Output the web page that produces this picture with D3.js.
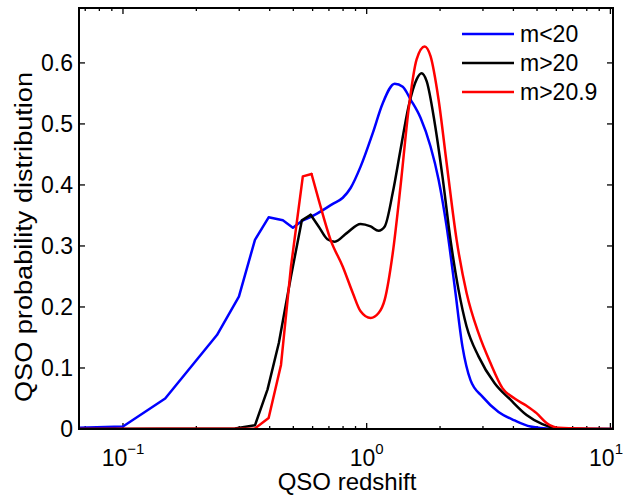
<!DOCTYPE html>
<html>
<head>
<meta charset="utf-8">
<script src="https://cdn.jsdelivr.net/npm/d3@7/dist/d3.min.js"></script>
<style>
  body { margin: 0; background: #fff; }
  text { font-family: "Liberation Sans", Arial, sans-serif; fill: #000; }
</style>
</head>
<body>
<div id="chart"></div>
<script>
// redshift samples and probability values
const zBlue = [0.066, 0.1, 0.149, 0.243, 0.299, 0.348, 0.396, 0.453, 0.498, 0.547, 0.612, 0.726, 0.798, 0.859, 0.944,
    1.059, 1.164, 1.303, 1.406, 1.514, 1.663, 1.828, 1.972, 2.128, 2.296, 2.472, 2.667, 2.985, 3.475, 4.046, 4.699, 5.675, 10.25];
const pBlue = [0.002, 0.004, 0.050, 0.154, 0.217, 0.310, 0.347, 0.342, 0.330, 0.342, 0.351, 0.369, 0.379, 0.395, 0.430,
    0.485, 0.534, 0.566, 0.561, 0.540, 0.510, 0.463, 0.409, 0.332, 0.234, 0.135, 0.080, 0.053, 0.028, 0.014, 0.004, 0.0005, 0];

const zBlack = [0.066, 0.288, 0.348, 0.392, 0.436, 0.489, 0.542, 0.589, 0.635, 0.690, 0.740, 0.828, 0.944, 1.038, 1.119,
    1.186, 1.279, 1.377, 1.486, 1.603, 1.679, 1.762, 1.901, 2.046, 2.208, 2.382, 2.570, 2.877, 3.350, 3.890, 4.529, 5.260, 6.124, 10.25];
const pBlack = [0, 0.001, 0.006, 0.065, 0.141, 0.250, 0.342, 0.351, 0.332, 0.311, 0.307, 0.321, 0.336, 0.332, 0.325,
    0.332, 0.387, 0.458, 0.529, 0.573, 0.583, 0.570, 0.502, 0.414, 0.310, 0.228, 0.168, 0.119, 0.075, 0.048, 0.023, 0.008, 0.001, 0];

const zRed = [0.066, 0.348, 0.396, 0.445, 0.489, 0.547, 0.594, 0.635, 0.711, 0.798, 0.877, 0.944, 1.038, 1.119, 1.186,
    1.279, 1.377, 1.486, 1.603, 1.730, 1.828, 1.972, 2.128, 2.339, 2.570, 2.877, 3.221, 3.606, 4.046, 4.529, 4.977, 5.470, 6.124, 10.25];
const pRed = [0, 0.001, 0.018, 0.105, 0.266, 0.414, 0.418, 0.376, 0.310, 0.266, 0.223, 0.193, 0.182, 0.190, 0.212,
    0.288, 0.398, 0.524, 0.606, 0.627, 0.611, 0.540, 0.436, 0.310, 0.223, 0.157, 0.108, 0.067, 0.050, 0.038, 0.026, 0.010, 0.002, 0];

const seriesNames = ["m<20", "m>20", "m>20.9"];
const seriesColors = ["#0000ff", "#000000", "#ff0000"];
const yTicks = [0, 0.1, 0.2, 0.3, 0.4, 0.5, 0.6];
const xTickExp = [-1, 0, 1];

const svgW = 626, svgH = 495;
const plotL = 79, plotR = 613, plotT = 8, plotB = 429;

const svg = d3.select("#chart").append("svg")
    .attr("width", svgW)
    .attr("height", svgH);

const x = d3.scaleLog().domain([0.066, 10.25]).range([plotL, plotR]);
const y = d3.scaleLinear().domain([0, 0.69]).range([plotB, plotT]);

//minor ticks for the log axis (2..9 in each decade)
const minor = [];
for (let e = -2; e <= 1; e++) {
    for (let k = 2; k <= 9; k++) {
        const v = k * Math.pow(10, e);
        if (v > 0.066 && v < 10.25) minor.push(v);
    }
}

const tickG = svg.append("g").attr("stroke", "#000").attr("stroke-width", 1.3);
minor.forEach(v => {
    tickG.append("line").attr("x1", x(v)).attr("x2", x(v)).attr("y1", plotB).attr("y2", plotB - 3);
    tickG.append("line").attr("x1", x(v)).attr("x2", x(v)).attr("y1", plotT).attr("y2", plotT + 3);
});
xTickExp.forEach(e => {
    const v = Math.pow(10, e);
    tickG.append("line").attr("x1", x(v)).attr("x2", x(v)).attr("y1", plotB).attr("y2", plotB - 6);
    tickG.append("line").attr("x1", x(v)).attr("x2", x(v)).attr("y1", plotT).attr("y2", plotT + 6);
});
yTicks.forEach(t => {
    tickG.append("line").attr("x1", plotL).attr("x2", plotL + 6).attr("y1", y(t)).attr("y2", y(t));
    tickG.append("line").attr("x1", plotR).attr("x2", plotR - 6).attr("y1", y(t)).attr("y2", y(t));
});

// curves: the low-redshift part looks piecewise linear, the rest is smooth
const lineStraight = d3.line()
    .x(d => x(d[0]))
    .y(d => y(d[1]));
const lineSmooth = d3.line()
    .curve(d3.curveMonotoneX)
    .x(d => x(d[0]))
    .y(d => y(d[1]));

const series = [
    d3.zip(zBlue, pBlue),
    d3.zip(zBlack, pBlack),
    d3.zip(zRed, pRed)
];
const splitAt = [0.547, 0.589, 0.594];

svg.append("defs").append("clipPath").attr("id", "clip")
    .append("rect").attr("x", plotL).attr("y", plotT).attr("width", plotR - plotL).attr("height", plotB - plotT);

series.forEach((s, i) => {
    const g = svg.append("g")
        .attr("clip-path", "url(#clip)")
        .attr("fill", "none")
        .attr("stroke", seriesColors[i])
        .attr("stroke-width", 2.5)
        .attr("stroke-linejoin", "round")
        .attr("stroke-linecap", "round");
    g.append("path").datum(s.filter(d => d[0] <= splitAt[i])).attr("d", lineStraight);
    g.append("path").datum(s.filter(d => d[0] >= splitAt[i])).attr("d", lineSmooth);
});

// frame
svg.append("rect")
    .attr("x", plotL).attr("y", plotT)
    .attr("width", plotR - plotL).attr("height", plotB - plotT)
    .attr("fill", "none")
    .attr("stroke", "#000")
    .attr("stroke-width", 2);

// y tick labels
yTicks.forEach(t => {
    svg.append("text")
        .attr("x", plotL - 6)
        .attr("y", y(t) + 8)
        .attr("text-anchor", "end")
        .style("font-size", "23px")
        .text(t === 0 ? "0" : t.toFixed(1));
});

// x tick labels 10^e
xTickExp.forEach(e => {
    const cx = Math.min(x(Math.pow(10, e)), 606);
    const lbl = svg.append("text")
        .attr("x", cx)
        .attr("y", 466)
        .attr("text-anchor", "middle")
        .style("font-size", "23px");
    lbl.append("tspan").text("10");
    lbl.append("tspan")
        .attr("dy", -12)
        .style("font-size", "15px")
        .text(e < 0 ? "\u2212" + Math.abs(e) : e);
});

svg.append("text")
    .attr("x", 347)
    .attr("y", 490)
    .attr("text-anchor", "middle")
    .style("font-size", "24px")
    .text("QSO redshift");

svg.append("text")
    .attr("transform", "translate(32," + 237 + ") rotate(-90)")
    .attr("text-anchor", "middle")
    .attr("textLength", 330)
    .attr("lengthAdjust", "spacingAndGlyphs")
    .style("font-size", "23px")
    .text("QSO probability distribution");

// legend
seriesNames.forEach((n, i) => {
    const ly = 34 + i * 29;
    svg.append("line")
        .attr("x1", 462).attr("x2", 514)
        .attr("y1", ly).attr("y2", ly)
        .attr("stroke", seriesColors[i])
        .attr("stroke-width", 2.5);
    svg.append("text")
        .attr("x", 520)
        .attr("y", ly + 8)
        .style("font-size", "23px")
        .text(n);
});
</script>
</body>
</html>
